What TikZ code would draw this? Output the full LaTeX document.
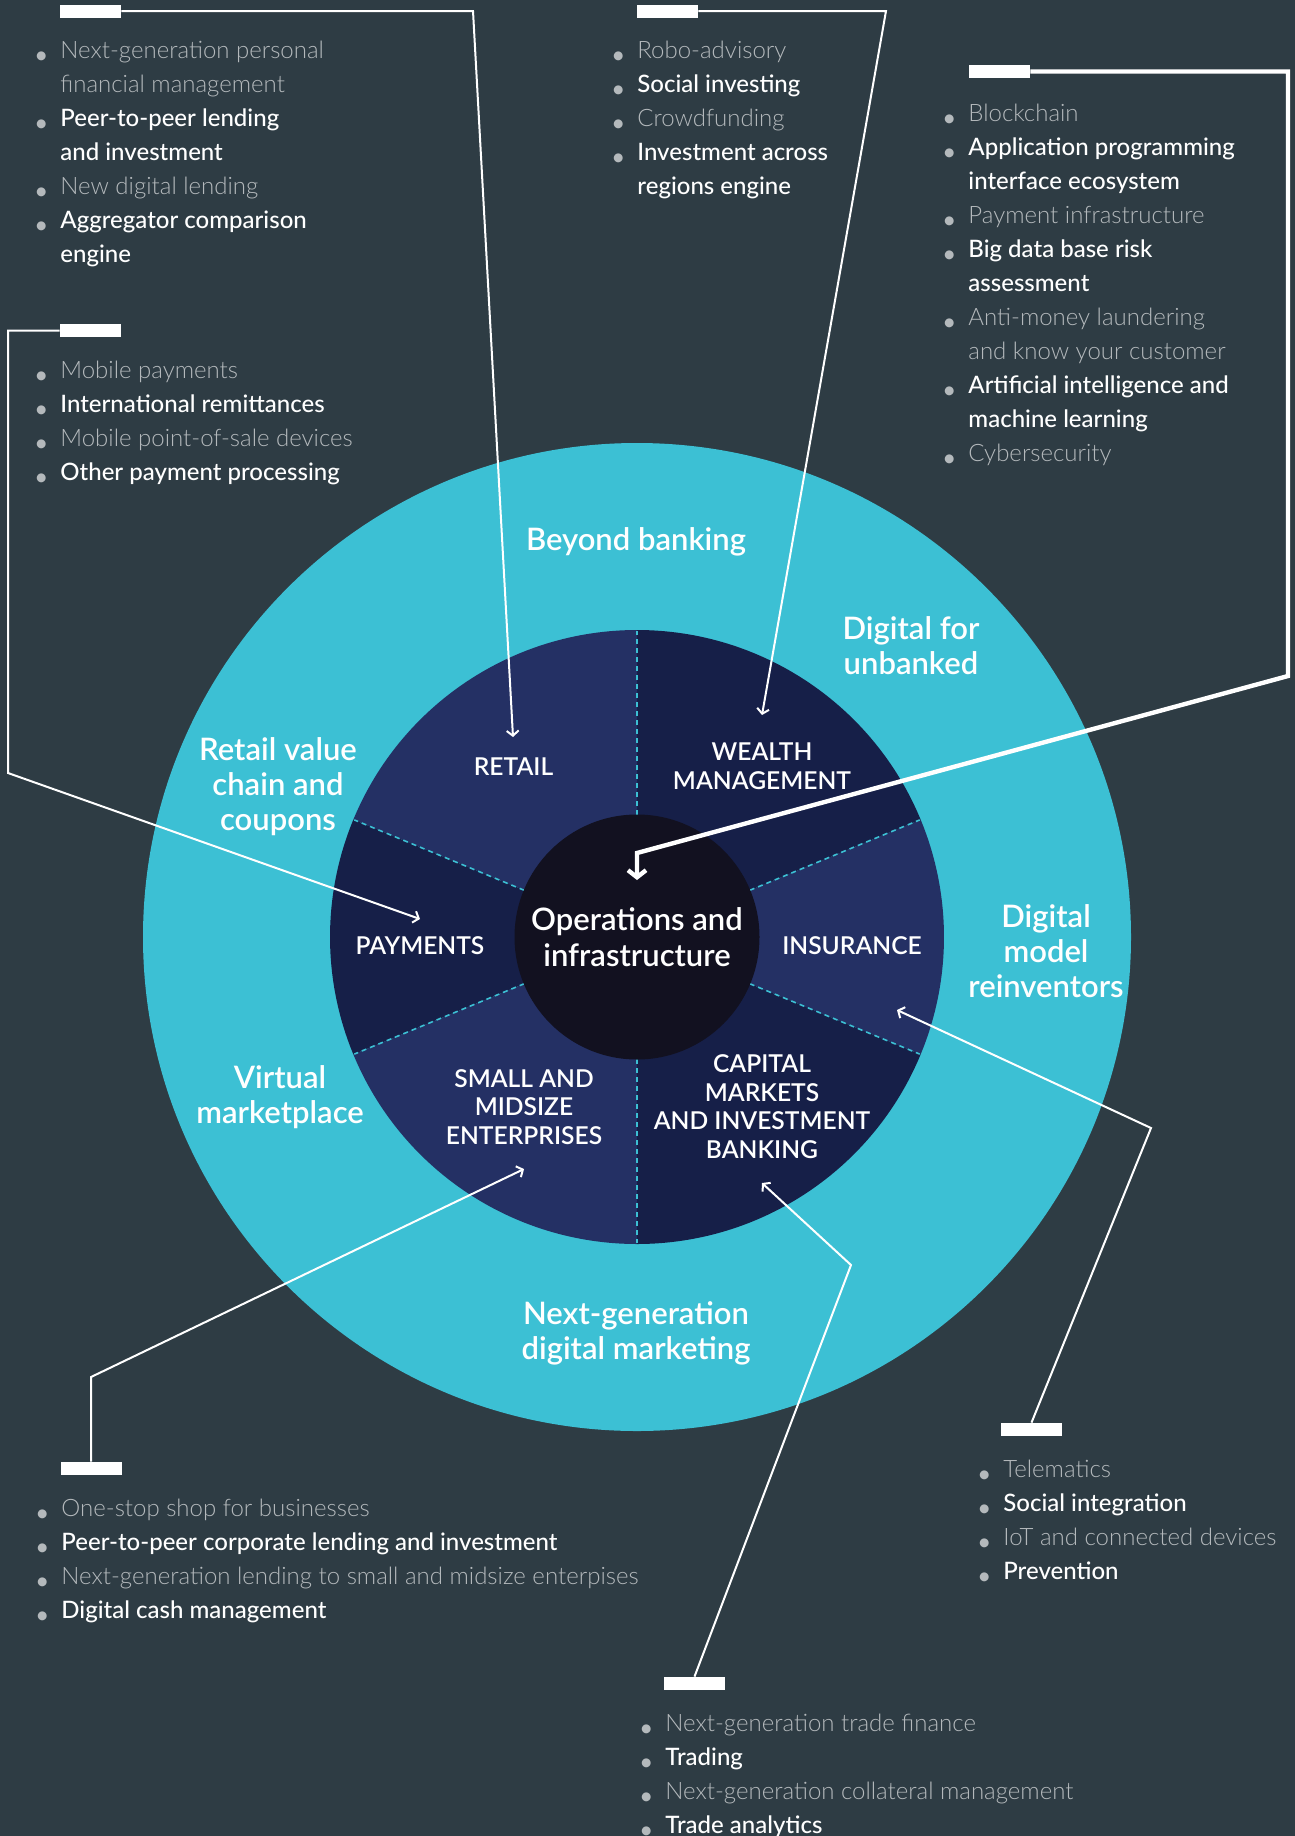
\documentclass[tikz,border=0pt]{standalone}
\usepackage{fontspec}
\setmainfont{Lato}
\newfontfamily\litefont{Lato Light}
\newfontfamily\medfont{Lato Medium}
\newfontfamily\semifont{Lato Semibold}
\usetikzlibrary{arrows.meta, positioning}
\definecolor{slate}{HTML}{2E3C44}
\definecolor{ring}{HTML}{3CC0D4}
\definecolor{navylight}{HTML}{243064}
\definecolor{navydark}{HTML}{161F48}
\definecolor{corefill}{HTML}{121120}
\definecolor{itemgray}{HTML}{B4B9BC}
\newcommand{\bul}{\llap{\textcolor{itemgray}{\raisebox{-2.6pt}{\textbullet}}\hspace{6pt}}}
\newcommand{\gry}[1]{\textcolor{itemgray}{\litefont #1}}
\newcommand{\wht}[1]{\textcolor{white}{\medfont #1}}
\begin{document}
\begin{tikzpicture}[x=0.5pt, y=-0.5pt,
  bar/.style={fill=white, minimum width=30.5pt, minimum height=6.5pt, inner sep=0pt},
  items/.style={anchor=base west, align=left, inner sep=0pt, font=\fontsize{12}{17}\selectfont},
  ringlabel/.style={anchor=base, text=white, align=center, inner sep=0pt, font=\semifont\fontsize{15.5}{17.5}\selectfont},
  sector/.style={anchor=base, text=white, align=center, inner sep=0pt, font=\semifont\fontsize{12.3}{14.2}\selectfont},
  core/.style={circle, fill=corefill, minimum size=122.5pt, text=white, align=center, font=\semifont\fontsize{15.5}{18}\selectfont},
  leader/.style={draw=white, line width=1pt, -{Straight Barb[length=2.5pt, width=6pt]}},
  heavy/.style={draw=white, line width=2.2pt, -{Straight Barb[length=3.5pt, width=9pt]}},
  divider/.style={draw=ring, line width=0.8pt, dash pattern=on 2.5pt off 2pt}]
\useasboundingbox (0,0) rectangle (1295,1836);
\fill[slate] (0,0) rectangle (1295,1836);
\coordinate (c) at (637,937);
\fill[ring] (c) circle[radius=494];
\foreach \s/\e/\col in {22.5/-22.5/navylight, -22.5/-90/navydark, -90/-157.5/navylight, -157.5/-202.5/navydark, -202.5/-270/navylight, -270/-337.5/navydark}
  \fill[\col] (c) -- ++(\s:307) arc[start angle=\s, end angle=\e, radius=307] -- cycle;
\foreach \a in {-22.5,-90,-157.5,-202.5,-270,-337.5}
  \draw[divider] ([shift={(\a:122)}]c) -- ([shift={(\a:306)}]c);
\node[core] (core) at (c) {Operations and\\infrastructure};

\node[sector] (retail) at (513.5,775) {RETAIL};
\node[sector] (wealth) at (762,789) {WEALTH\\MANAGEMENT};
\node[sector] (payments) at (420,954) {PAYMENTS};
\node[sector] (insurance) at (852,954) {INSURANCE};
\node[sector] (sme) at (524,1144) {SMALL AND\\MIDSIZE\\ENTERPRISES};
\node[sector] (capital) at (762,1158) {CAPITAL\\MARKETS\\AND INVESTMENT\\BANKING};

\node[ringlabel] (beyond) at (636,550) {Beyond banking};
\node[ringlabel] (unbanked) at (911,674) {Digital for\\unbanked};
\node[ringlabel] (reinvent) at (1046,997) {Digital\\model\\reinventors};
\node[ringlabel] (marketing) at (636,1359) {Next-generation\\digital marketing};
\node[ringlabel] (market) at (280,1123) {Virtual\\marketplace};
\node[ringlabel] (coupons) at (278,830) {Retail value\\chain and\\coupons};

\node[items] (list1) at (60,262) {\bul\gry{Next-generation personal}\\\gry{financial management}\\\bul\wht{Peer-to-peer lending}\\\wht{and investment}\\\bul\gry{New digital lending}\\\bul\wht{Aggregator comparison}\\\wht{engine}};
\node[items] (list2) at (637,194) {\bul\gry{Robo-advisory}\\\bul\wht{Social investing}\\\bul\gry{Crowdfunding}\\\bul\wht{Investment across}\\\wht{regions engine}};
\node[items] (list3) at (968,461) {\bul\gry{Blockchain}\\\bul\wht{Application programming}\\\wht{interface ecosystem}\\\bul\gry{Payment infrastructure}\\\bul\wht{Big data base risk}\\\wht{assessment}\\\bul\gry{Anti-money laundering}\\\gry{and know your customer}\\\bul\wht{Artificial intelligence and}\\\wht{machine learning}\\\bul\gry{Cybersecurity}};
\node[items] (list4) at (60,480) {\bul\gry{Mobile payments}\\\bul\wht{International remittances}\\\bul\gry{Mobile point-of-sale devices}\\\bul\wht{Other payment processing}};
\node[items] (list5) at (61,1618) {\bul\gry{One-stop shop for businesses}\\\bul\wht{Peer-to-peer corporate lending and investment}\\\bul\gry{Next-generation lending to small and midsize enterpises}\\\bul\wht{Digital cash management}};
\node[items] (list6) at (665,1833) {\bul\gry{Next-generation trade finance}\\\bul\wht{Trading}\\\bul\gry{Next-generation collateral management}\\\bul\wht{Trade analytics}};
\node[items] (list7) at (1003,1579) {\bul\gry{Telematics}\\\bul\wht{Social integration}\\\bul\gry{IoT and connected devices}\\\bul\wht{Prevention}};

\node[bar] (bar1) at (90.5,11) {};
\node[bar] (bar2) at (667.5,11) {};
\node[bar] (bar3) at (999.5,71.5) {};
\node[bar] (bar4) at (90.5,330.5) {};
\node[bar] (bar5) at (91,1468.5) {};
\node[bar] (bar6) at (694.5,1683.5) {};
\node[bar] (bar7) at (1031.5,1429.5) {};

\coordinate (k1) at (473,11);
\coordinate (t1) at (513,737);
\coordinate (k2) at (886,11);
\coordinate (t2) at (762,715);
\coordinate (k3a) at (1288,71.5);
\coordinate (k3b) at (1288,676);
\coordinate (k3c) at (637,853);
\coordinate (t3) at (637,880);
\coordinate (k4a) at (8,330.5);
\coordinate (k4b) at (8,773);
\coordinate (t4) at (420,919);
\coordinate (k5) at (91,1377);
\coordinate (t5) at (524,1169);
\coordinate (k6) at (851,1265);
\coordinate (t6) at (762,1183);
\coordinate (k7) at (1151,1128);
\coordinate (t7) at (897,1010);

\draw[heavy] (bar3.east) -- (k3a) -- (k3b) -- (k3c) -- (t3);
\draw[leader] (bar1.east) -- (k1) -- (t1);
\draw[leader] (bar2.east) -- (k2) -- (t2);
\draw[leader] (bar4.west) -- (k4a) -- (k4b) -- (t4);
\draw[leader] (bar5.north) -- (k5) -- (t5);
\draw[leader] (bar6.north) -- (k6) -- (t6);
\draw[leader] (bar7.north) -- (k7) -- (t7);
\end{tikzpicture}
\end{document}
